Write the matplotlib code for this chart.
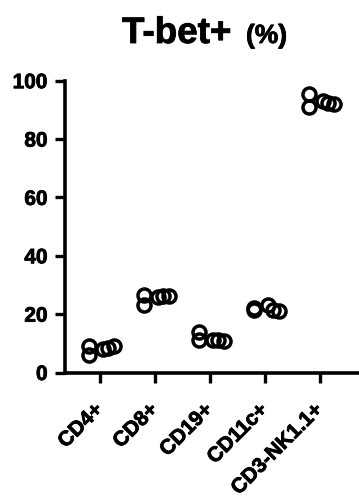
import numpy as np
import matplotlib.pyplot as plt
import matplotlib.patheffects as pe

plt.rcParams["font.family"] = ["Liberation Sans", "DejaVu Sans"]
plt.rcParams["font.weight"] = "bold"

# data (percent T-bet+ per replicate)
categories = ["CD4+", "CD8+", "CD19+", "CD11c+", "CD3-NK1.1+"]
cd4 = [9.0, 5.9, 8.0, 8.3, 9.0]
cd8 = [26.5, 23.0, 26.0, 26.2, 26.3]
cd19 = [13.9, 11.0, 11.2, 11.0, 10.9]
cd11c = [22.0, 21.5, 23.0, 21.5, 21.2]
nk = [95.5, 91.0, 93.0, 92.5, 92.0]
groups = [cd4, cd8, cd19, cd11c, nk]

yticks = [0, 20, 40, 60, 80, 100]

# horizontal spread used for overlapping replicates (category units)
spread = np.array([-0.2, -0.2, 0.05, 0.15, 0.26])

heavy = [pe.withStroke(linewidth=0.6, foreground="black")]

fig = plt.figure(figsize=(3.59, 4.98), dpi=100)
ax = fig.add_axes([0.181, 0.252, 0.816, 0.586])

for i, vals in enumerate(groups):
    xs = i + spread[: len(vals)]
    ax.plot(xs, vals, linestyle="none", marker="o", markersize=9.4,
            markerfacecolor="none", markeredgecolor="black",
            markeredgewidth=2.5, clip_on=False)

ax.set_ylim(0, 100)
ax.set_xlim(-0.636, 4.69)
ax.set_yticks(yticks)
ax.set_xticks(range(len(categories)))
ax.set_xticklabels(categories, rotation=45, ha="right", va="center",
                   rotation_mode="anchor")

for s in ["top", "right"]:
    ax.spines[s].set_visible(False)
for s in ["left", "bottom"]:
    ax.spines[s].set_linewidth(2.6)

ax.tick_params(axis="both", direction="out", length=7.5, width=2.4,
               labelsize=15)
ax.tick_params(axis="y", pad=5)
ax.tick_params(axis="x", pad=17)
for lab in ax.get_xticklabels() + ax.get_yticklabels():
    lab.set_path_effects(heavy)

fig.text(122 / 359, 1 - 43 / 498, "T-bet+", fontsize=26.5,
         fontweight="bold", ha="left", va="baseline", path_effects=heavy)
fig.text(246 / 359, 1 - 43 / 498, "(%)", fontsize=19,
         fontweight="bold", ha="left", va="baseline", path_effects=heavy)

fig.savefig("out.png", dpi=100)
